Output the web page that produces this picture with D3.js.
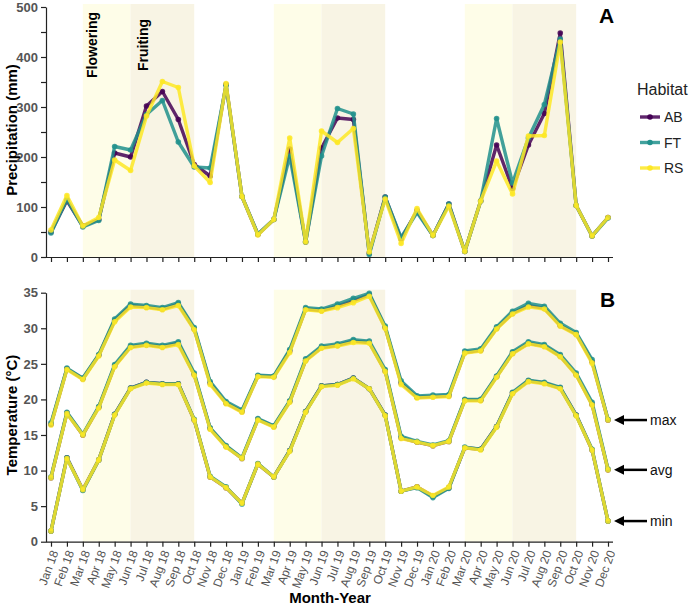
<!DOCTYPE html>
<html>
<head>
<meta charset="utf-8">
<script src="https://cdn.jsdelivr.net/npm/d3@7"></script>
<style>
  body{margin:0;background:#fff;}
  svg{font-family:"Liberation Sans",Arial,sans-serif;}
</style>
</head>
<body>
<div id="chart"></div>
<script>
const months=["Jan 18","Feb 18","Mar 18","Apr 18","May 18","Jun 18","Jul 18","Aug 18","Sep 18","Oct 18","Nov 18","Dec 18",
  "Jan 19","Feb 19","Mar 19","Apr 19","May 19","Jun 19","Jul 19","Aug 19","Sep 19","Oct 19","Nov 19","Dec 19",
  "Jan 20","Feb 20","Mar 20","Apr 20","May 20","Jun 20","Jul 20","Aug 20","Sep 20","Oct 20","Nov 20","Dec 20"];
const habitats=["AB","FT","RS"];
const habitatColors=["#440154","#21908C","#FDE725"];

// precipitation (mm)
const precipAB=[50,113,62,75,208,200,302,331,275,185,162,345,121,45,75,216,30,218,278,275,8,120,36,93,43,106,11,112,224,137,224,287,448,103,42,79];
const precipFT=[48,115,60,73,221,214,285,313,230,180,178,343,121,46,75,202,30,202,297,286,5,120,39,89,43,106,11,112,277,148,238,305,436,103,42,78];
const precipRS=[54,123,62,79,194,173,282,351,339,182,149,347,121,44,75,238,30,252,229,257,10,116,27,97,43,102,11,112,192,126,242,243,430,103,42,79];

// temperature (°C)
const tMaxAB=[16.5,24.3,22.9,26.2,31.1,33.2,33.0,32.7,33.4,29.9,22.3,19.5,18.3,23.3,23.2,26.8,32.7,32.5,33.1,33.9,34.7,30.1,22.3,20.3,20.4,20.5,26.6,26.9,30.0,32.1,33.2,32.8,30.4,29.2,25.3,17.1];
const tMaxFT=[16.7,24.4,23.0,26.3,31.3,33.4,33.2,32.9,33.6,30.1,22.5,19.7,18.5,23.4,23.3,27.0,32.9,32.7,33.4,34.2,34.9,30.3,22.6,20.5,20.6,20.7,26.8,27.1,30.2,32.4,33.5,33.1,30.7,29.4,25.6,17.2];
const tMaxRS=[16.4,24.2,22.8,26.1,30.9,33.0,32.9,32.6,33.2,29.8,22.1,19.4,18.2,23.2,23.1,26.6,32.6,32.4,32.9,33.6,34.5,30.0,22.1,20.2,20.3,20.4,26.5,26.8,29.9,32.0,33.0,32.7,30.3,29.1,25.1,17.1];
const tAvgAB=[9.0,18.1,15.0,18.9,24.7,27.4,27.7,27.4,27.9,23.5,15.9,13.4,11.7,17.2,16.2,19.7,25.5,27.3,27.6,28.2,28.0,24.0,14.6,14.0,13.5,14.1,19.9,19.9,23.2,26.5,27.9,27.5,26.1,23.5,19.3,10.1];
const tAvgFT=[9.1,18.2,15.1,19.0,24.9,27.6,27.9,27.6,28.1,23.7,16.0,13.5,11.8,17.3,16.3,19.8,25.7,27.5,27.8,28.4,28.2,24.2,14.8,14.1,13.6,14.2,20.0,20.0,23.3,26.7,28.1,27.7,26.3,23.7,19.6,10.2];
const tAvgRS=[9.0,18.0,15.0,18.8,24.6,27.3,27.6,27.3,27.7,23.4,15.8,13.3,11.7,17.1,16.1,19.6,25.4,27.2,27.5,28.0,27.9,23.9,14.5,14.0,13.5,14.1,19.8,19.8,23.1,26.4,27.8,27.4,26.0,23.4,19.2,10.1];
const tMinAB=[1.5,11.8,7.3,11.5,17.9,21.6,22.4,22.2,22.2,17.1,9.1,7.6,5.4,10.9,9.1,12.8,18.3,21.9,22.1,23.0,21.5,17.8,7.1,7.7,6.4,7.6,13.2,13.0,16.2,20.9,22.6,22.3,21.6,17.8,12.9,2.9];
const tMinFT=[1.5,11.8,7.2,11.5,17.9,21.6,22.4,22.2,22.2,17.2,9.2,7.7,5.3,11.0,9.1,12.8,18.3,21.9,22.1,23.0,21.5,17.8,7.1,7.6,6.2,7.5,13.3,13.0,16.2,21.0,22.7,22.4,21.7,17.8,13.0,2.9];
const tMinRS=[1.5,11.7,7.3,11.5,17.8,21.5,22.3,22.1,22.1,17.1,9.1,7.6,5.4,10.9,9.1,12.7,18.2,21.8,22.0,22.9,21.5,17.7,7.1,7.7,6.5,7.7,13.2,12.9,16.1,20.8,22.5,22.2,21.5,17.7,12.9,2.9];

// phenology shading (start month, end month)
const floweringSpans=[["Mar 18","Jun 18"],["Mar 19","Jun 19"],["Mar 20","Jun 20"]];
const fruitingSpans=[["Jun 18","Oct 18"],["Jun 19","Oct 19"],["Jun 20","Oct 20"]];

const precipTicks=[0,100,200,300,400,500];
const tempTicks=[0,5,10,15,20,25,30,35];

const W=690,H=607;
const svg=d3.select("#chart").append("svg").attr("width",W).attr("height",H);

const x=d3.scalePoint().domain(months).range([51,608]);
const yP=d3.scaleLinear().domain([0,500]).range([257,7]);
const yT=d3.scaleLinear().domain([0,35]).range([541.7,292.7]);

function shading(y){
  const [y1,y0]=y.range();
  floweringSpans.forEach(s=>{
    svg.append("rect").attr("x",x(s[0])).attr("width",x(s[1])-x(s[0]))
      .attr("y",y0-3).attr("height",y1-y0+3).attr("fill","#FEFDE8");
  });
  fruitingSpans.forEach(s=>{
    svg.append("rect").attr("x",x(s[0])).attr("width",x(s[1])-x(s[0]))
      .attr("y",y0-3).attr("height",y1-y0+3).attr("fill","#F8F4E4");
  });
}
shading(yP);
shading(yT);

function drawSeries(y,vals,color){
  const pts=vals.map((v,i)=>[x(months[i]),y(v)]);
  const g=svg.append("g");
  g.append("path").attr("d",d3.line()(pts)).attr("fill","none")
    .attr("stroke",color).attr("stroke-width",3.4).attr("stroke-opacity",0.85)
    .attr("stroke-linejoin","round");
  g.selectAll("circle").data(pts).enter().append("circle")
    .attr("cx",d=>d[0]).attr("cy",d=>d[1]).attr("r",2.8)
    .attr("fill",color).attr("fill-opacity",0.85);
}

[precipAB,precipFT,precipRS].forEach((s,i)=>drawSeries(yP,s,habitatColors[i]));
[[tMaxAB,tAvgAB,tMinAB],[tMaxFT,tAvgFT,tMinFT],[tMaxRS,tAvgRS,tMinRS]].forEach((set,i)=>{
  set.forEach(s=>drawSeries(yT,s,habitatColors[i]));
});

function styleAxis(g){
  g.selectAll("path,line").attr("stroke","#222").attr("stroke-width",1.2);
  g.selectAll("text").attr("fill","#555").attr("font-weight","bold").attr("font-size",13)
    .attr("font-family","'Liberation Sans',Arial,sans-serif");
}

// precipitation axes
svg.append("g").attr("transform","translate(46,0)")
  .call(d3.axisLeft(yP).tickValues(d3.range(0,501,50)).tickSize(5).tickSizeOuter(0)
    .tickFormat(d=>precipTicks.includes(d)?d:""))
  .call(styleAxis);
svg.append("g").attr("transform","translate(0,257)")
  .call(d3.axisBottom(x).tickSize(5).tickSizeOuter(0).tickFormat(""))
  .call(g=>g.select(".domain").attr("d","M46,0.5H613"))
  .call(styleAxis);

// temperature axes
svg.append("g").attr("transform","translate(46,0)")
  .call(d3.axisLeft(yT).tickValues(tempTicks).tickSize(5).tickSizeOuter(0))
  .call(styleAxis);
const xa=svg.append("g").attr("transform","translate(0,541.7)")
  .call(d3.axisBottom(x).tickSize(5).tickSizeOuter(0))
  .call(g=>g.select(".domain").attr("d","M46,0.5H613"))
  .call(styleAxis);
xa.selectAll(".tick text").attr("font-weight","normal").attr("font-size",12)
  .attr("text-anchor","end").attr("dy","0.35em")
  .attr("transform","translate(3,9) rotate(-70)").attr("x",0).attr("y",0);

// axis titles
svg.append("text").attr("transform","translate(17,130) rotate(-90)").attr("text-anchor","middle")
  .attr("font-weight","bold").attr("font-size",15).text("Precipitation (mm)");
svg.append("text").attr("transform","translate(17,415) rotate(-90)").attr("text-anchor","middle")
  .attr("font-weight","bold").attr("font-size",15).text("Temperature (°C)");
svg.append("text").attr("x",330).attr("y",603).attr("text-anchor","middle")
  .attr("font-weight","bold").attr("font-size",15).text("Month-Year");

// phase labels
svg.append("text").attr("transform","translate(97,78) rotate(-90)")
  .attr("font-weight","bold").attr("font-size",14).text("Flowering");
svg.append("text").attr("transform","translate(148,71) rotate(-90)")
  .attr("font-weight","bold").attr("font-size",14).text("Fruiting");

// panel letters
svg.append("text").attr("x",599).attr("y",23).attr("font-weight","bold").attr("font-size",21).text("A");
svg.append("text").attr("x",600).attr("y",307).attr("font-weight","bold").attr("font-size",21).text("B");

// legend
const leg=svg.append("g");
leg.append("text").attr("x",637).attr("y",95).attr("font-size",16).attr("fill","#222").text("Habitat");
habitats.forEach((h,i)=>{
  const yy=117+i*25.5;
  leg.append("line").attr("x1",640).attr("x2",660).attr("y1",yy).attr("y2",yy)
    .attr("stroke",habitatColors[i]).attr("stroke-width",3.4).attr("stroke-opacity",0.85);
  leg.append("circle").attr("cx",650).attr("cy",yy).attr("r",2.8).attr("fill",habitatColors[i]);
  leg.append("text").attr("x",664).attr("y",yy+5).attr("font-size",14).attr("fill","#222").text(h);
});

// arrows for max/avg/min
const last=months[months.length-1];
[["max",tMaxRS],["avg",tAvgRS],["min",tMinRS]].forEach(([lab,s])=>{
  const yy=yT(s[s.length-1]);
  svg.append("line").attr("x1",622).attr("x2",647).attr("y1",yy).attr("y2",yy)
    .attr("stroke","#000").attr("stroke-width",2.5);
  svg.append("path").attr("d",`M${x(last)+6},${yy}l10,-5v10z`).attr("fill","#000");
  svg.append("text").attr("x",650).attr("y",yy+5).attr("font-size",14).attr("fill","#111").text(lab);
});
</script>
</body>
</html>
